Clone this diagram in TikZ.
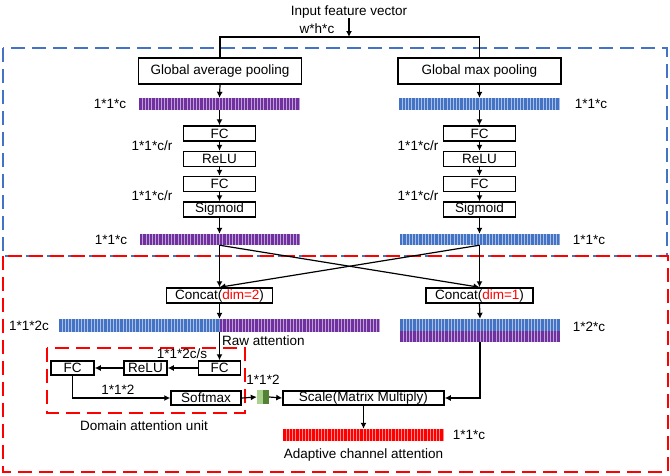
\documentclass[tikz,border=0pt]{standalone}
\usepackage{fontspec}
\setmainfont{Liberation Sans}
\usetikzlibrary{arrows.meta}
\definecolor{mypurple}{RGB}{112,48,160}
\definecolor{myblue}{RGB}{68,114,196}
\definecolor{myred}{RGB}{255,0,0}
\definecolor{lgreen}{RGB}{169,209,142}
\definecolor{dgreen}{RGB}{84,130,53}
\begin{document}
\begin{tikzpicture}[x=1pt,y=-1pt, font=\fontsize{13.5}{16}\selectfont,
  box/.style={draw, line width=1.5pt, inner sep=0pt, minimum height=15pt},
  bar/.style={inner sep=0pt, minimum height=12pt, fill=#1, path picture={
     \foreach \k in {1,...,110}{\draw[white, opacity=0.55, line width=0.7pt]
       ([xshift=\k*3.2]path picture bounding box.north west) --
       ([xshift=\k*3.2]path picture bounding box.south west);}}},
  arr/.style={-{Latex[length=6pt,width=6pt]}, line width=1.2pt},
  ln/.style={line width=1.2pt},
  bluedash/.style={draw=myblue, line width=1.4pt, dash pattern=on 14pt off 7pt},
  reddash/.style={draw=myred, line width=1.4pt, dash pattern=on 14pt off 7pt},
  lbl/.style={inner sep=0pt}]
\useasboundingbox (0,0) rectangle (670,475);
% frames
\draw[bluedash] (3,48) rectangle (667,256);
\draw[reddash] (3,256) rectangle (668,472);
\draw[reddash] (47,348) rectangle (245,413);
% input
\node[lbl] (in) at (349,12) {Input feature vector};
\node[lbl] (whc) at (317,29) {w*h*c};
\coordinate (split) at (349,37);
% pooling
\node[box, minimum width=163pt, minimum height=26pt] (gap) at (220,71) {Global average pooling};
\node[box, minimum width=163pt, minimum height=26pt] (gmp) at (479.5,71) {Global max pooling};
\draw[arr] (in.south) -- (split);
\draw[ln] (gap.north) -- (gap.north |- split) -- (gmp.north |- split) -- (gmp.north);
% top bars
\node[bar=mypurple, minimum width=161pt] (b1L) at (219.5,104) {};
\node[bar=myblue, minimum width=161pt] (b1R) at (479.5,104) {};
\node[lbl] (l1L) at (110,104) {1*1*c};
\node[lbl] (l1R) at (591,104) {1*1*c};
% chains
\foreach \s/\x in {L/219.5,R/479.5}{
  \node[box, minimum width=72pt] (fc1\s) at (\x,133.5) {FC};
  \node[box, minimum width=72pt] (relu\s) at (\x,159) {ReLU};
  \node[box, minimum width=72pt] (fc2\s) at (\x,184) {FC};
  \node[box, minimum width=72pt] (sig\s) at (\x,209.5) {Sigmoid};
  \node[bar=white, minimum width=160pt, minimum height=11pt, fill=none] (b2\s) at (\x,239.5) {};
}
\node[bar=mypurple, minimum width=160pt, minimum height=11pt] (b2Lf) at (219.5,239.5) {};
\node[bar=myblue, minimum width=160pt, minimum height=11pt] (b2Rf) at (479.5,239.5) {};
\node[lbl] (c1) at (152,146) {1*1*c/r};
\node[lbl] (c2) at (152,196) {1*1*c/r};
\node[lbl] (c3) at (418,146) {1*1*c/r};
\node[lbl] (c4) at (418,196) {1*1*c/r};
\node[lbl] (l2L) at (111,240) {1*1*c};
\node[lbl] (l2R) at (589,240) {1*1*c};
\draw[arr] (gap.south) -- (b1L.north);
\draw[arr] (gmp.south) -- (b1R.north);
\foreach \s in {L,R}{
  \draw[arr] (b1\s.south) -- (fc1\s.north);
  \draw[arr] (fc1\s.south) -- (relu\s.north);
  \draw[arr] (relu\s.south) -- (fc2\s.north);
  \draw[arr] (fc2\s.south) -- (sig\s.north);
  \draw[arr] (sig\s.south) -- (b2\s.north);
}
% concat
\node[box, minimum width=106pt] (catL) at (219.5,295.5) {Concat(\textcolor{myred}{dim=2})};
\node[box, minimum width=107pt] (catR) at (479.5,295.5) {Concat(\textcolor{myred}{dim=1})};
\draw[arr] (b2L.south) -- (catL.north);
\draw[arr] (b2L.south) -- (catR.north);
\draw[arr] (b2R.south) -- (catR.north);
\draw[arr] (b2R.south) -- (catL.north);
% concat bars
\node[bar=myblue, minimum width=160.5pt, minimum height=13pt] (bcB) at (139.25,325.5) {};
\node[bar=mypurple, minimum width=160.5pt, minimum height=13pt] (bcP) at (299.75,325.5) {};
\node[lbl] (l2c) at (29,326) {1*1*2c};
\node[bar=myblue, minimum width=160pt, minimum height=11.5pt] (brB) at (480,324.75) {};
\node[bar=mypurple, minimum width=160pt, minimum height=11.5pt] (brP) at (480,336.25) {};
\node[lbl] (l2cR) at (589,327) {1*2*c};
\draw[arr] (catL.south) -- (catL.south |- bcB.north);
\draw[arr] (catR.south) -- (brB.north);
\node[lbl, anchor=west] (raw) at (222,341) {Raw attention};
% domain attention unit
\node[box, minimum width=42pt, minimum height=14pt] (dfc1) at (219.5,368) {FC};
\node[box, minimum width=43pt, minimum height=14pt] (drelu) at (145.5,368) {ReLU};
\node[box, minimum width=43pt, minimum height=14pt] (dfc2) at (72.5,368) {FC};
\node[box, minimum width=70pt, minimum height=14pt] (soft) at (206,398) {Softmax};
\node[lbl] (l2s) at (182,354) {1*1*2c/s};
\node[lbl] (l12) at (118,390) {1*1*2};
\node[lbl] (dau) at (144,426) {Domain attention unit};
\draw[arr] (catL.south |- bcB.south) -- (dfc1.north);
\draw[arr] (dfc1.west) -- (drelu.east);
\draw[arr] (drelu.west) -- (dfc2.east);
\draw[arr] (dfc2.south) |- (soft.west);
% green weight
\node[inner sep=0pt, minimum width=12pt, minimum height=14pt, fill=lgreen, path picture={
   \fill[dgreen] (path picture bounding box.north) rectangle (path picture bounding box.south east);}] (grn) at (263,397) {};
\node[lbl] (l12b) at (263,380) {1*1*2};
\node[box, minimum width=161pt, minimum height=14pt] (scale) at (363.5,398) {Scale(Matrix Multiply)};
\draw[arr] (soft.east) -- (grn.west);
\draw[arr] (grn.east) -- (scale.west);
\draw[arr] (brP.south) |- (scale.east);
% output
\node[bar=myred, minimum width=161pt, minimum height=12pt] (outb) at (363.5,435) {};
\node[lbl] (l1c) at (469,435) {1*1*c};
\node[lbl] (aca) at (363.5,455) {Adaptive channel attention};
\draw[arr] (scale.south) -- (outb.north);
\end{tikzpicture}
\end{document}
